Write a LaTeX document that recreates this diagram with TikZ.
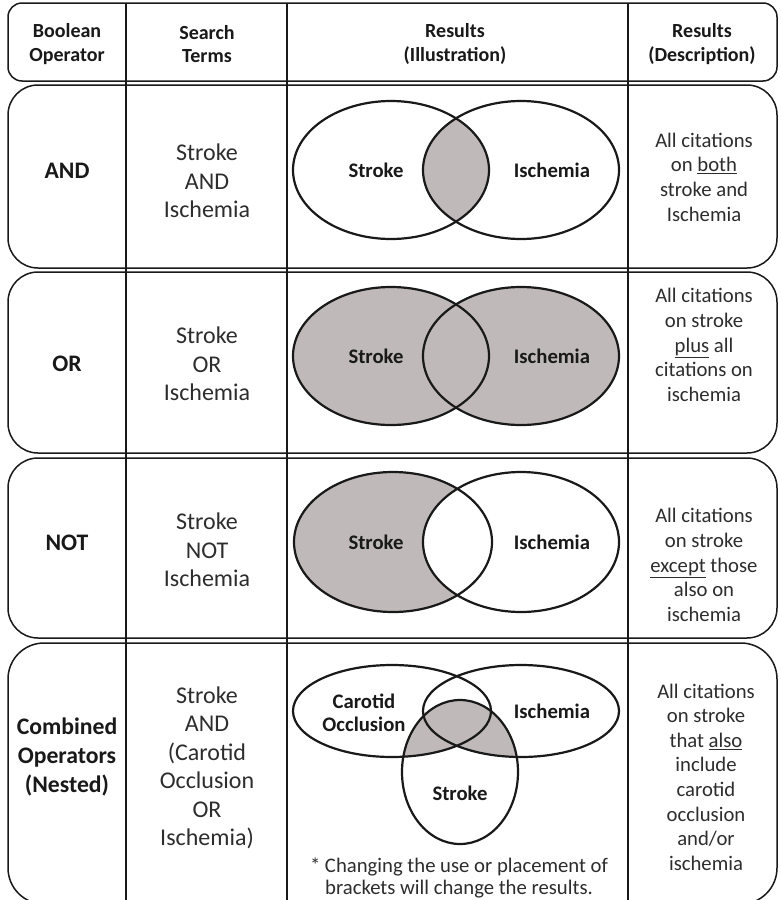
\documentclass[tikz,border=0pt]{standalone}
\usepackage{fontspec}
\setmainfont{Carlito}
\definecolor{vfill}{RGB}{192,185,185}
\definecolor{txt}{RGB}{45,45,45}
\tikzset{
  rowbox/.style={draw=black!90, line width=1.5pt, rounded corners=30pt},
  colline/.style={draw=black!90, line width=1.6pt},
  venn/.style={draw=black!90, line width=2.2pt},
  hdr/.style={align=center, text=black!90, font=\fontsize{20}{23.5}\selectfont\bfseries},
  opr/.style={align=center, text=black!90, font=\fontsize{23.7}{29}\selectfont\bfseries},
  term/.style={align=center, text=txt, font=\fontsize{24}{28.5}\selectfont},
  desc/.style={align=center, text=txt, font=\fontsize{20.7}{24.6}\selectfont},
  vlab/.style={align=center, text=black!90, font=\fontsize{20.7}{23.5}\selectfont\bfseries},
  note/.style={align=center, text=txt, font=\fontsize{20.7}{21.5}\selectfont}
}
\begin{document}
\begin{tikzpicture}[x=1pt,y=-1pt]
\useasboundingbox (0,0) rectangle (780,900);
\fill[white] (0,0) rectangle (780,900);
% row boxes
\draw[rowbox, rounded corners=14pt] (8,3) rectangle (777,81);
\draw[rowbox] (8,85) rectangle (777,268);
\draw[rowbox] (8,272) rectangle (777,453);
\draw[rowbox] (8,458) rectangle (777,638);
\draw[rowbox, rounded corners=36pt] (8,643) rectangle (777,904);
% column lines
\coordinate (c1t) at (126,3); \coordinate (c1b) at (126,900);
\coordinate (c2t) at (287,3); \coordinate (c2b) at (287,900);
\coordinate (c3t) at (628,3); \coordinate (c3b) at (628,900);
\draw[colline] (c1t) -- (c1b);
\draw[colline] (c2t) -- (c2b);
\draw[colline] (c3t) -- (c3b);
% header
\node[hdr] (h1) at (67,44) {Boolean\\Operator};
\node[hdr] (h2) at (207,44) {Search\\Terms};
\node[hdr] (h3) at (455,44) {Results\\(Illustration)};
\node[hdr] (h4) at (702,44) {Results\\(Description)};
% row 1 AND
\node[opr] (o1) at (67,171) {AND};
\node[term] (t1) at (207,181) {Stroke\\AND\\Ischemia};
\begin{scope}
  \clip (391,170) ellipse [x radius=98pt, y radius=69pt];
  \fill[vfill] (521,170) ellipse [x radius=98pt, y radius=69pt];
\end{scope}
\draw[venn] (391,170) ellipse [x radius=98pt, y radius=69pt];
\draw[venn] (521,170) ellipse [x radius=98pt, y radius=69pt];
\node[vlab] (s1) at (376,170) {Stroke};
\node[vlab] (i1) at (552,170) {Ischemia};
\node[desc] (d1) at (704,177) {All citations\\on \underline{both}\\stroke and\\Ischemia};
% row 2 OR
\node[opr] (o2) at (67,364) {OR};
\node[term] (t2) at (207,364) {Stroke\\OR\\Ischemia};
\fill[vfill] (391,356) ellipse [x radius=98pt, y radius=69pt];
\fill[vfill] (521,356) ellipse [x radius=98pt, y radius=69pt];
\draw[venn] (391,356) ellipse [x radius=98pt, y radius=69pt];
\draw[venn] (521,356) ellipse [x radius=98pt, y radius=69pt];
\node[vlab] (s2) at (376,356) {Stroke};
\node[vlab] (i2) at (552,356) {Ischemia};
\node[desc] (d2) at (704,345) {All citations\\on stroke\\\underline{plus} all\\citations on\\ischemia};
% row 3 NOT
\node[opr] (o3) at (67,543) {NOT};
\node[term] (t3) at (207,550) {Stroke\\NOT\\Ischemia};
\begin{scope}[even odd rule]
  \clip (521,542) ellipse [x radius=98pt, y radius=70pt] (250,440) rectangle (640,650);
  \fill[vfill] (393,542) ellipse [x radius=99pt, y radius=70pt];
\end{scope}
\draw[venn] (393,542) ellipse [x radius=99pt, y radius=70pt];
\draw[venn] (521,542) ellipse [x radius=98pt, y radius=70pt];
\node[vlab] (s3) at (376,542) {Stroke};
\node[vlab] (i3) at (552,542) {Ischemia};
\node[desc] (d3) at (704,565) {All citations\\on stroke\\\underline{except} those\\also on\\ischemia};
% row 4 combined
\node[opr] (o4) at (67,757) {Combined\\Operators\\(Nested)};
\node[term] (t4) at (207,768) {Stroke\\AND\\(Carotid\\Occlusion\\OR\\Ischemia)};
\begin{scope}
  \clip (460,772) ellipse [x radius=58pt, y radius=72pt];
  \fill[vfill] (392,711) ellipse [x radius=99pt, y radius=46pt];
  \fill[vfill] (521,711) ellipse [x radius=98pt, y radius=46pt];
\end{scope}
\draw[venn] (392,711) ellipse [x radius=99pt, y radius=46pt];
\draw[venn] (521,711) ellipse [x radius=98pt, y radius=46pt];
\draw[venn] (460,772) ellipse [x radius=58pt, y radius=72pt];
\node[vlab] (c4) at (364,713) {Carotid\\Occlusion};
\node[vlab] (i4) at (552,711) {Ischemia};
\node[vlab] (s4) at (460,793) {Stroke};
\node[note] (n4) at (459,878) {* Changing the use or placement of\\brackets will change the results.};
\node[desc] (d4) at (706,777) {All citations\\on stroke\\that \underline{also}\\include\\carotid\\occlusion\\and/or\\ischemia};
\end{tikzpicture}
\end{document}
